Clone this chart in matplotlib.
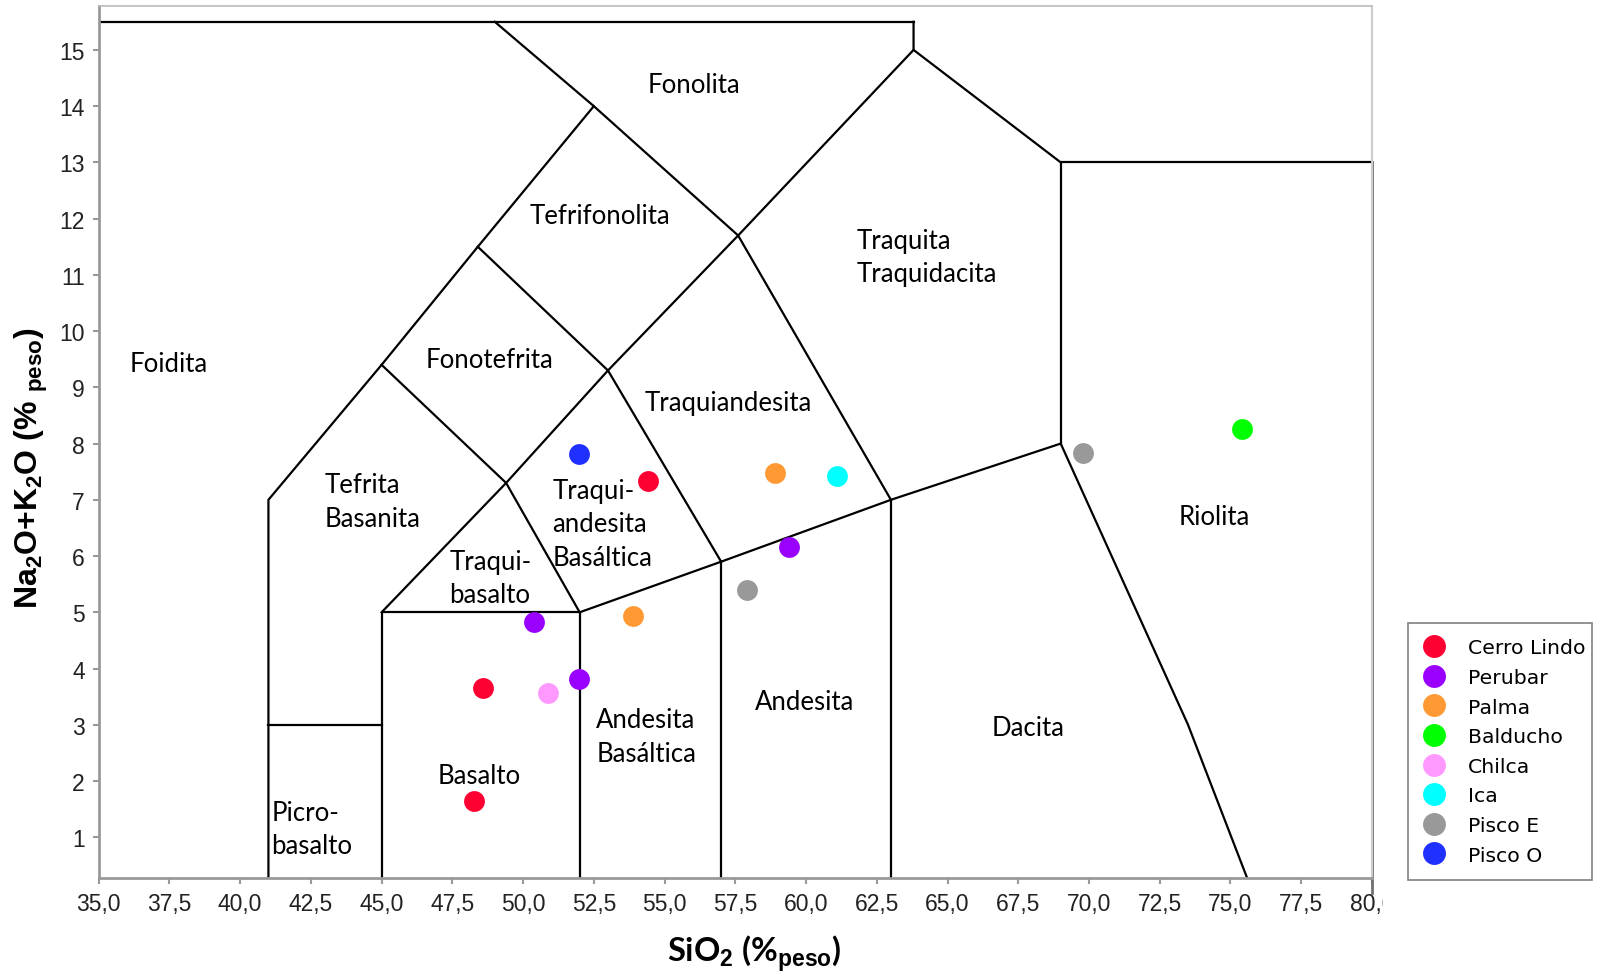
import matplotlib
matplotlib.use('Agg')
import matplotlib.pyplot as plt
import numpy as np
from matplotlib.transforms import Bbox, TransformedBbox

plt.rcParams['mathtext.fontset'] = 'custom'
plt.rcParams['mathtext.rm'] = 'Liberation Sans'
plt.rcParams['mathtext.bf'] = 'Liberation Sans:bold'

# sample groups and their analyses (SiO2 wt%, Na2O+K2O wt%)
groups = ['Cerro Lindo', 'Perubar', 'Palma', 'Balducho', 'Chilca', 'Ica', 'Pisco E', 'Pisco O']
colors = ['#ff0033', '#9900ff', '#ff9933', '#00ff00', '#ff99ff', '#00ffff', '#999999', '#2030ff']
sio2 = [[54.42, 48.59, 48.27],
        [50.39, 51.98, 59.39],
        [53.89, 58.90],
        [75.40],
        [50.89],
        [61.09],
        [57.90, 69.79],
        [51.98]]
alkalis = [[7.34, 3.65, 1.65],
           [4.82, 3.81, 6.16],
           [4.93, 7.48],
           [8.26],
           [3.56],
           [7.42],
           [5.40, 7.83],
           [7.82]]

# TAS field boundaries
boundaries = [
    [(41, 0), (41, 7), (45, 9.4), (48.4, 11.5), (52.5, 14), (49.0, 15.5)],
    [(41, 3), (45, 3)],
    [(45, 0), (45, 5), (52, 5), (52, 0)],
    [(45, 5), (49.4, 7.3), (52, 5)],
    [(45, 9.4), (49.4, 7.3), (53, 9.3), (57.6, 11.7), (63.8, 15), (63.8, 15.5)],
    [(48.4, 11.5), (53, 9.3), (57, 5.9)],
    [(52, 5), (57, 5.9), (63, 7), (69, 8), (73.5, 3), (75.8, 0)],
    [(57, 0), (57, 5.9)],
    [(63, 0), (63, 7)],
    [(52.5, 14), (57.6, 11.7), (63, 7)],
    [(69, 8), (69, 13), (80, 13)],
    [(63.8, 15), (69, 13)],
    [(35, 15.5), (63.8, 15.5)],
]

field_names = ['Fonolita', 'Tefrifonolita', 'Traquita\nTraquidacita', 'Foidita', 'Fonotefrita',
               'Traquiandesita', 'Tefrita\nBasanita', 'Traqui-\nandesita\nBasáltica',
               'Traqui-\nbasalto', 'Riolita', 'Andesita', 'Andesita\nBasáltica', 'Dacita',
               'Basalto', 'Picro-\nbasalto']
field_x = [56.05, 52.7, 61.78, 37.49, 48.81, 57.24, 42.97, 51.04, 47.40, 74.43, 59.94, 52.59,
           67.84, 48.45, 41.1]
field_y = [14.38, 12.06, 11.32, 9.43, 9.50, 8.73, 6.97, 6.57, 5.61, 6.71, 3.41, 2.79, 2.96,
           2.09, 1.15]
field_ha = ['center', 'center', 'left', 'center', 'center', 'center', 'left', 'left', 'left',
            'center', 'center', 'left', 'center', 'center', 'left']

xticks = np.arange(35, 80.01, 2.5)
yticks = np.arange(1, 16)

fig = plt.figure(figsize=(15.99, 9.78), dpi=100)
ax = fig.add_axes([0.0617, 0.1015, 0.7963, 0.8913])

for line in boundaries:
    xs, ys = zip(*line)
    ax.plot(xs, ys, color='black', lw=1.6, zorder=2)
ax.plot([80, 80], [0, 13], color='#707070', lw=2, zorder=2, clip_on=False)

for name, x, y, ha in zip(field_names, field_x, field_y, field_ha):
    ax.text(x, y, name, ha=ha, va='center', fontsize=18.5, family='Lato',
            linespacing=1.42, zorder=3)

for g, c, xs, ys in zip(groups, colors, sio2, alkalis):
    ax.plot(xs, ys, 'o', color=c, ms=15, mec='none', label=g, zorder=4)

ax.set_xlim(35, 80)
ax.set_ylim(0.28, 15.78)
ax.set_xticks(xticks)
ax.set_xticklabels([f'{v:.1f}'.replace('.', ',') for v in xticks])
ax.set_yticks(yticks)
ax.set_yticklabels([str(v) for v in yticks])
ax.tick_params(direction='out', length=4, width=1.5, color='#999999', labelsize=16.5, pad=6)
for lab in ax.get_xticklabels() + ax.get_yticklabels():
    lab.set_family('Liberation Sans')
    lab.set_color('#222222')

ax.spines['left'].set_color('#999999')
ax.spines['bottom'].set_color('#999999')
ax.spines['left'].set_linewidth(2)
ax.spines['bottom'].set_linewidth(2)
ax.spines['top'].set_color('#bbbbbb')
ax.spines['right'].set_color('#cccccc')
ax.spines['top'].set_linewidth(1.2)
ax.spines['right'].set_linewidth(1.5)

# last tick label is cut by the plot area in the original
last = ax.get_xticklabels()[-1]
last.set_clip_box(TransformedBbox(Bbox([[0, 0], [1383 / 1599, 1]]), fig.transFigure))
last.set_clip_on(True)

fig.text(0.472, 1 - 954 / 978, r'SiO$_\mathbf{2}$ (%$_\mathbf{peso}$)', ha='center', va='center',
         fontsize=23.5, fontweight='bold', family='Lato')
fig.text(31 / 1599, 1 - 468 / 978, r'Na$_\mathbf{2}$O+K$_\mathbf{2}$O (% $_\mathbf{peso}$)',
         ha='center', va='center', rotation=90, fontsize=23, fontweight='bold',
         family='Liberation Sans')

leg = fig.legend(loc='upper left',
                 bbox_to_anchor=(1408 / 1599, 0, 184 / 1599, 1 - 624 / 978), mode='expand',
                 frameon=True, fancybox=False, edgecolor='#808080', framealpha=1,
                 prop={'family': 'DejaVu Sans', 'size': 14.7}, handlelength=1.0,
                 handletextpad=1.2, borderpad=0.75, labelspacing=0.52, markerscale=1.1,
                 borderaxespad=0)
leg.get_frame().set_linewidth(1.2)

fig.savefig('out.png', dpi=100, facecolor='white')
